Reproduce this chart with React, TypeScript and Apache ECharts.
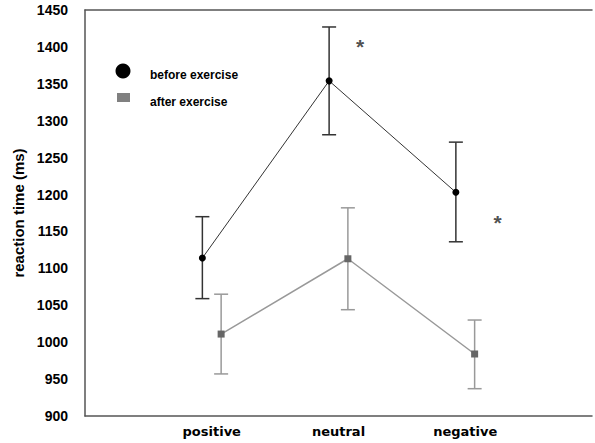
import React, { useEffect, useRef } from "react";
import * as echarts from "echarts";

const categories = ["positive", "neutral", "negative"];
const beforeMean = [1114, 1354, 1203];
const beforeLow = [1059, 1281, 1136];
const beforeHigh = [1170, 1427, 1271];
const afterMean = [1011, 1113, 984];
const afterLow = [957, 1044, 937];
const afterHigh = [1065, 1182, 1030];
const yTicks = { min: 900, max: 1450, interval: 50 };
const asterisks: [number, number][] = [
  [2.17, 1400],
  [3.255, 1162],
];

const OFF = 0.074;

export default function App() {
  const ref = useRef<HTMLDivElement>(null);
  useEffect(() => {
    document.body.style.margin = "0";
    const chart = echarts.init(ref.current!, undefined, { renderer: "svg" });
    const font = "'Liberation Sans', Arial, sans-serif";
    const beforeX = categories.map((_, i) => i + 1 - OFF);
    const afterX = categories.map((_, i) => i + 1 + OFF);

    const errSeries = (xs: number[], lo: number[], hi: number[], color: string, w: number) => ({
      type: "custom",
      data: xs.map((x, i) => [x, lo[i], hi[i]]),
      encode: { x: 0, y: [1, 2] },
      z: 1,
      silent: true,
      renderItem: (params: any, api: any) => {
        const x = api.value(0);
        const p1 = api.coord([x, api.value(1)]);
        const p2 = api.coord([x, api.value(2)]);
        const hw = 7;
        const style = { stroke: color, lineWidth: w };
        return {
          type: "group",
          children: [
            { type: "line", shape: { x1: p1[0], y1: p1[1], x2: p2[0], y2: p2[1] }, style },
            { type: "line", shape: { x1: p1[0] - hw, y1: p1[1], x2: p1[0] + hw, y2: p1[1] }, style },
            { type: "line", shape: { x1: p2[0] - hw, y1: p2[1], x2: p2[0] + hw, y2: p2[1] }, style },
          ],
        };
      },
    });

    const axisLine = { show: true, lineStyle: { color: "#555", width: 1.5 } };

    chart.setOption({
      animation: false,
      backgroundColor: "#fff",
      grid: { left: 85, top: 10, width: 514, height: 406 },
      xAxis: [
        {
          type: "value",
          min: 0,
          max: 4,
          interval: 1,
          splitLine: { show: false },
          axisTick: { show: false },
          axisLine,
          axisLabel: {
            formatter: (v: number) => categories[v - 1] ?? "",
            color: "#000",
            fontWeight: "bold",
            fontSize: 13,
            fontFamily: "'DejaVu Sans', Verdana, sans-serif",
            margin: 9,
          },
        },
        {
          type: "value",
          position: "top",
          min: 0,
          max: 4,
          splitLine: { show: false },
          axisTick: { show: false },
          axisLabel: { show: false },
          axisLine,
        },
      ],
      yAxis: {
        type: "value",
        min: yTicks.min,
        max: yTicks.max,
        interval: yTicks.interval,
        splitLine: { show: false },
        axisTick: { show: false },
        axisLine,
        axisLabel: {
          formatter: (v: number) => String(v),
          color: "#000",
          fontWeight: "bold",
          fontSize: 14,
          fontFamily: font,
          margin: 17,
        },
        name: "reaction time (ms)",
        nameLocation: "middle",
        nameRotate: 90,
        nameGap: 55,
        nameTextStyle: { color: "#000", fontWeight: "bold", fontSize: 15, fontFamily: font },
      },
      graphic: [
        { type: "circle", shape: { cx: 123, cy: 71, r: 7.5 }, style: { fill: "#000" } },
        { type: "rect", shape: { x: 117, y: 93, width: 13, height: 9 }, style: { fill: "#808080" } },
        { type: "text", x: 150, y: 75, style: { text: "before exercise", font: `bold 12px ${font}`, fill: "#000", verticalAlign: "middle" } },
        { type: "text", x: 150, y: 102, style: { text: "after exercise", font: `bold 12px ${font}`, fill: "#000", verticalAlign: "middle" } },
      ],
      series: [
        errSeries(beforeX, beforeLow, beforeHigh, "#333", 1.5),
        errSeries(afterX, afterLow, afterHigh, "#999", 1.5),
        {
          name: "before exercise",
          type: "line",
          data: beforeX.map((x, i) => [x, beforeMean[i]]),
          symbol: "circle",
          symbolSize: 7,
          lineStyle: { color: "#333", width: 1 },
          itemStyle: { color: "#000" },
          z: 3,
        },
        {
          name: "after exercise",
          type: "line",
          data: afterX.map((x, i) => [x, afterMean[i]]),
          symbol: "rect",
          symbolSize: 7,
          lineStyle: { color: "#999", width: 1.5 },
          itemStyle: { color: "#666" },
          z: 3,
        },
        {
          type: "scatter",
          data: asterisks,
          symbolSize: 0,
          label: { show: true, formatter: "*", position: "inside", color: "#222", fontSize: 21, fontWeight: "bold", fontFamily: font },
          silent: true,
        },
      ],
    });
    return () => chart.dispose();
  }, []);
  return <div ref={ref} style={{ width: 595, height: 443 }} />;
}
